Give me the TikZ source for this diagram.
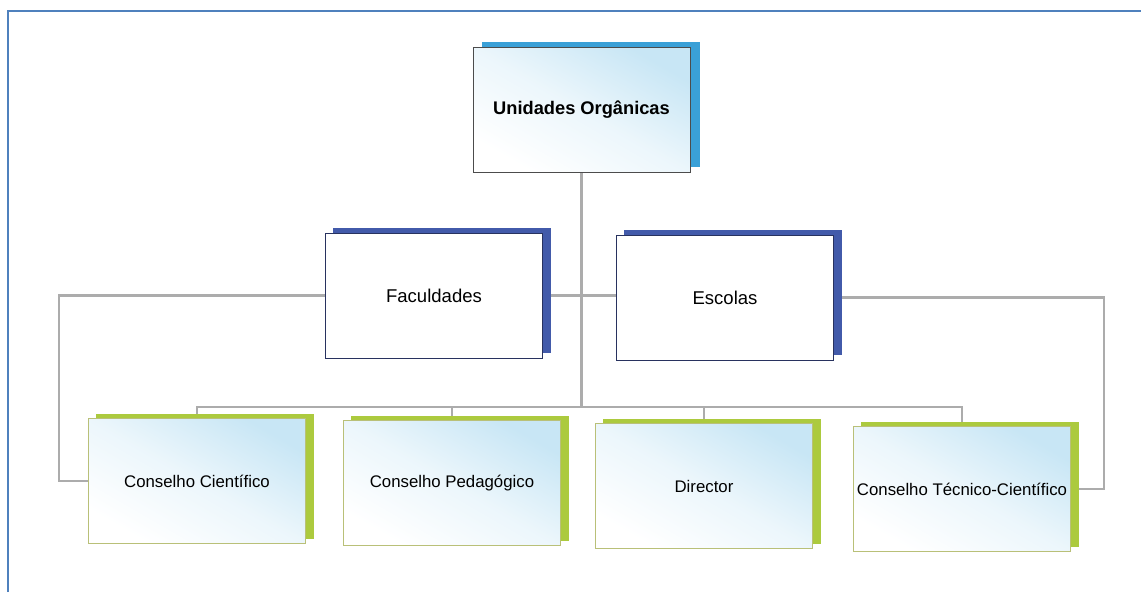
\documentclass[tikz,border=0pt]{standalone}
\usepackage{fontspec}
\setmainfont{Liberation Sans}
\usepackage{tikz}
\usetikzlibrary{shadows,backgrounds}

\definecolor{framebl}{RGB}{79,129,189}
\definecolor{topshd}{RGB}{58,160,215}
\definecolor{midshd}{RGB}{66,90,170}
\definecolor{lowshd}{RGB}{172,202,62}
\definecolor{lowbrd}{RGB}{185,192,120}
\definecolor{midbrd}{RGB}{40,50,95}
\definecolor{paleblue}{RGB}{200,230,245}

\begin{document}
\begin{tikzpicture}[x=0.75pt,y=-0.75pt]
\useasboundingbox (0,0) rectangle (1141,592);
\tikzstyle{box}=[draw,minimum width=163pt,minimum height=94pt,inner sep=1pt,align=center];
\tikzstyle{topbox}=[box,draw=gray!60!black,general shadow={shadow xshift=7pt,shadow yshift=4pt,fill=topshd},
	top color=paleblue,bottom color=white,middle color=paleblue!35!white,shading angle=-30,font=\fontsize{13.7}{16}\selectfont\bfseries];
\tikzstyle{midbox}=[box,draw=midbrd,fill=white,general shadow={shadow xshift=6pt,shadow yshift=4pt,fill=midshd},
	font=\fontsize{13.9}{16}\selectfont];
\tikzstyle{lowbox}=[box,draw=lowbrd,general shadow={shadow xshift=6pt,shadow yshift=3.5pt,fill=lowshd},
	top color=paleblue,bottom color=white,middle color=paleblue!35!white,shading angle=-30,font=\fontsize{12.6}{15}\selectfont];
\tikzstyle{conn}=[draw=gray!65,line width=1.6pt];

% frame
\draw[framebl,line width=2pt] (8,592)--(8,11)--(1141,11);

\node[topbox] (uo) at (581.5,110) {Unidades Orgânicas};
\node[midbox] (fac) at (434,295.5) {Faculdades};
\node[midbox] (esc) at (725,297.5) {Escolas};
\node[lowbox] (cc) at (197,481) {Conselho Científico};
\node[lowbox] (cp) at (452,483) {Conselho Pedagógico};
\node[lowbox] (dir) at (704,486) {Director};
\node[lowbox] (ctc) at (962,489) {Conselho Técnico-Científico};

\coordinate (bus) at (581.5,407);

\begin{scope}[on background layer]
\draw[conn] (uo.south)--(bus);
\draw[conn] (cc.north)--(cc.north |- bus)--(ctc.north |- bus)--(ctc.north);
\draw[conn] (cp.north)--(cp.north |- bus);
\draw[conn] (dir.north)--(dir.north |- bus);
\draw[conn] (fac.east)--(fac.east -| esc.west);
\draw[conn] (fac.west) -| ([xshift=-22pt]cc.west)--(cc.west);
\draw[conn] (esc.east) -| ([xshift=25pt]ctc.east)--(ctc.east);
\end{scope}
\end{tikzpicture}
\end{document}
